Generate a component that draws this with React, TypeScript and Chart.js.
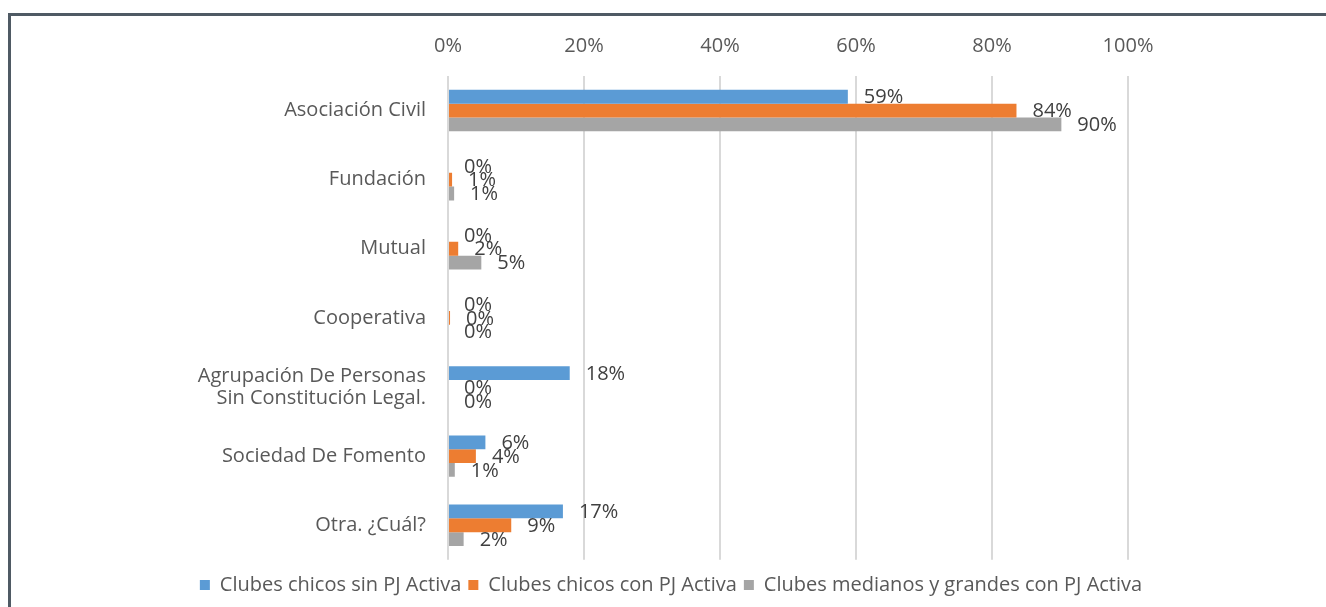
import React, { useEffect, useRef } from "react";
import { Chart, registerables } from "chart.js";

Chart.register(...registerables);

const categories: (string | string[])[] = [
  "Asociación Civil",
  "Fundación",
  "Mutual",
  "Cooperativa",
  ["Agrupación De Personas", "Sin Constitución Legal."],
  "Sociedad De Fomento",
  "Otra. ¿Cuál?",
];

const seriesNames = [
  "Clubes chicos sin PJ Activa",
  "Clubes chicos con PJ Activa",
  "Clubes medianos y grandes con PJ Activa",
];

const chicosSinPJ = [58.8, 0, 0, 0, 17.9, 5.5, 16.9];
const chicosConPJ = [83.6, 0.6, 1.5, 0.3, 0, 4.1, 9.3];
const medianosGrandesConPJ = [90.2, 0.9, 4.9, 0, 0, 1.0, 2.3];

const seriesColors = ["#5B9BD5", "#ED7D31", "#A5A5A5"];

const xTicks = [0, 20, 40, 60, 80, 100];

const FONT = "'Open Sans', 'DejaVu Sans', sans-serif";

const dataLabelPlugin = {
  id: "dataLabels",
  afterDatasetsDraw(chart: any) {
    const ctx = chart.ctx;
    ctx.save();
    ctx.font = `20px ${FONT}`;
    ctx.fillStyle = "#404040";
    ctx.textAlign = "left";
    ctx.textBaseline = "middle";
    chart.data.datasets.forEach((ds: any, i: number) => {
      const meta = chart.getDatasetMeta(i);
      meta.data.forEach((el: any, j: number) => {
        const v = ds.data[j];
        ctx.fillText(`${Math.round(v)}%`, el.x + 16, el.y + 1);
      });
    });
    ctx.restore();
  },
};

// Centre the legend on the whole frame rather than on the padded area
const legendCenterPlugin = {
  id: "legendCenter",
  afterLayout(chart: any) {
    const lg = chart.legend;
    if (lg) {
      lg.left = 16;
      lg.right = 1326;
    }
  },
};

export default function App() {
  const canvasRef = useRef<HTMLCanvasElement | null>(null);

  useEffect(() => {
    if (!canvasRef.current) return;
    const chart = new Chart(canvasRef.current, {
      type: "bar",
      data: {
        labels: categories,
        datasets: [chicosSinPJ, chicosConPJ, medianosGrandesConPJ].map((d, i) => ({
          label: seriesNames[i],
          data: d,
          backgroundColor: seriesColors[i],
          borderWidth: 0,
          categoryPercentage: 0.6,
          barPercentage: 1.0,
        })),
      },
      options: {
        indexAxis: "y",
        animation: false,
        responsive: false,
        layout: { padding: { left: 0, top: 0, right: 198, bottom: 2 } },
        scales: {
          x: {
            position: "top",
            min: 0,
            max: 100,
            afterBuildTicks: (scale: any) => {
              scale.ticks = xTicks.map((v) => ({ value: v }));
            },
            afterFit: (scale: any) => {
              scale.height = 76;
            },
            ticks: {
              padding: 18,
              color: "#595959",
              font: { family: FONT, size: 20 },
              callback: (v: any) => `${v}%`,
            },
            grid: { color: "#d9d9d9", lineWidth: 2, drawTicks: false },
            border: { display: false },
          },
          y: {
            afterFit: (scale: any) => {
              scale.width = 448;
            },
            ticks: {
              padding: 14,
              color: "#595959",
              font: { family: FONT, size: 20, lineHeight: 1.12 },
            },
            grid: { display: false },
            border: { display: false },
          },
        },
        plugins: {
          legend: {
            position: "bottom",
            title: { display: true, text: " ", font: { size: 1 }, padding: { top: 0, bottom: 7 } },
            labels: {
              boxWidth: 10,
              boxHeight: 10,
              padding: 7,
              color: "#595959",
              font: { family: FONT, size: 20 },
            },
          },
          tooltip: { enabled: false },
        },
      },
      plugins: [dataLabelPlugin, legendCenterPlugin],
    });
    return () => chart.destroy();
  }, []);

  return (
    <div
      style={{
        position: "absolute",
        left: 0,
        top: 0,
        width: 1326,
        height: 607,
        overflow: "hidden",
        background: "#ffffff",
      }}
    >
      <div
        style={{
          position: "absolute",
          left: 8,
          top: 13,
          width: 1400,
          height: 700,
          border: "3px solid #4f5a64",
          boxSizing: "border-box",
          pointerEvents: "none",
        }}
      />
      <canvas
        ref={canvasRef}
        width={1326}
        height={607}
        style={{ position: "absolute", left: 0, top: 0, width: 1326, height: 607 }}
      />
    </div>
  );
}
